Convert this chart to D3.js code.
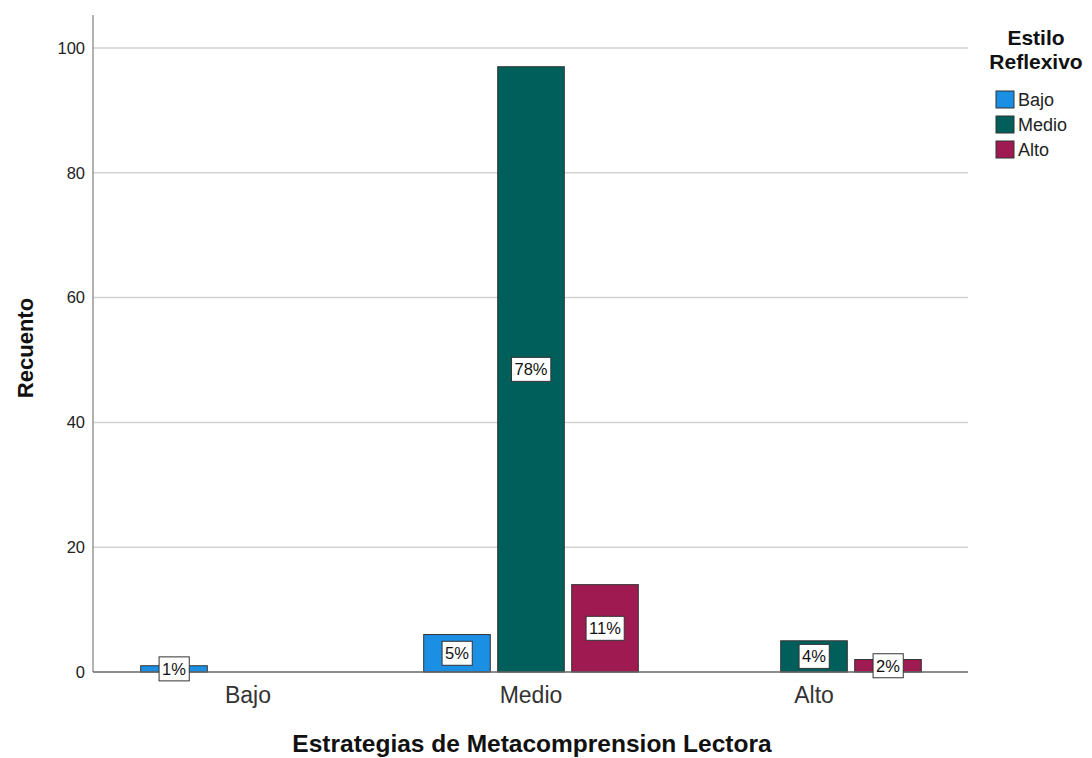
<!DOCTYPE html>
<html>
<head>
<meta charset="utf-8">
<script src="https://cdn.jsdelivr.net/npm/d3@7"></script>
<style>
  body { margin: 0; background: #fff; overflow: hidden; }
  text { font-family: "Liberation Sans", Arial, sans-serif; }
</style>
</head>
<body>
<div id="chart"></div>
<script>
const categories = ["Bajo", "Medio", "Alto"];
const series = ["Bajo", "Medio", "Alto"];
const colors = ["#1a8fe3", "#005f5a", "#a01a52"];
// counts per category, one array per series (null = no bar)
const bajoValues = [1, 6, null];
const medioValues = [null, 97, 5];
const altoValues = [null, 14, 2];
const yTicks = [0, 20, 40, 60, 80, 100];

const values = [bajoValues, medioValues, altoValues];
const total = d3.sum(values.flat());

const W = 1092, H = 758;
const plot = {left: 93, right: 968, top: 15, bottom: 672};

const svg = d3.select("#chart").append("svg")
    .attr("width", W).attr("height", H);

const x = d3.scaleBand().domain(categories).range([106.5, 955.5]);
const xs = d3.scaleBand().domain(series).range([-111, 111]).paddingInner(0.1).paddingOuter(0.05);
const y = d3.scaleLinear().domain([0, 100]).range([plot.bottom, 48]);

// gridlines
svg.append("g")
    .selectAll("line")
    .data(yTicks.filter(d => d > 0))
    .join("line")
    .attr("x1", plot.left).attr("x2", plot.right)
    .attr("y1", d => y(d)).attr("y2", d => y(d))
    .attr("stroke", "#d2d2d2").attr("stroke-width", 1.5);

// y axis
const yAxis = svg.append("g")
    .attr("transform", "translate(" + plot.left + ",0)")
    .call(d3.axisLeft(y).tickValues(yTicks).tickSize(0).tickPadding(8));
yAxis.select(".domain").remove();
yAxis.selectAll("text").attr("font-size", 16.5).attr("fill", "#222");
svg.append("line")
    .attr("x1", plot.left).attr("x2", plot.left).attr("y1", plot.top).attr("y2", plot.bottom)
    .attr("stroke", "#999").attr("stroke-width", 1.5);

// bars
const data = [];
series.forEach((s, i) => {
    categories.forEach((c, j) => {
        if (values[i][j] != null) data.push({cat: c, ser: s, i: i, value: values[i][j]});
    });
});

const bars = svg.append("g");
bars.selectAll("rect")
    .data(data)
    .join("rect")
    .attr("x", d => x(d.cat) + x.bandwidth() / 2 + xs(d.ser))
    .attr("y", d => y(d.value))
    .attr("width", xs.bandwidth())
    .attr("height", d => y(0) - y(d.value))
    .attr("fill", d => colors[d.i])
    .attr("stroke", "#333").attr("stroke-width", 1);

// x axis
const xAxis = svg.append("g")
    .attr("transform", "translate(0," + plot.bottom + ")")
    .call(d3.axisBottom(x).tickSize(0).tickPadding(15));
xAxis.select(".domain").remove();
xAxis.selectAll("text").attr("font-size", 23).attr("fill", "#333");
svg.append("line")
    .attr("x1", plot.left).attr("x2", plot.right).attr("y1", plot.bottom).attr("y2", plot.bottom)
    .attr("stroke", "#666").attr("stroke-width", 1.5);

// percentage labels
const labels = svg.append("g").selectAll("g")
    .data(data)
    .join("g")
    .attr("transform", d => "translate(" + (x(d.cat) + x.bandwidth() / 2 + xs(d.ser) + xs.bandwidth() / 2) + "," + ((y(d.value) + y(0)) / 2) + ")");
labels.append("text")
    .attr("text-anchor", "middle")
    .attr("dy", "0.36em")
    .attr("font-size", 16.5)
    .attr("fill", "#111")
    .text(d => Math.round(d.value / total * 100) + "%");
labels.each(function() {
    const g = d3.select(this);
    const b = g.select("text").node().getBBox();
    g.insert("rect", "text")
        .attr("x", b.x - 3).attr("y", -12)
        .attr("width", b.width + 6).attr("height", 24)
        .attr("fill", "#fff").attr("stroke", "#333").attr("stroke-width", 1);
});

// axis titles
svg.append("text")
    .attr("transform", "translate(33,348) rotate(-90)")
    .attr("text-anchor", "middle")
    .attr("font-size", 22).attr("font-weight", "bold").attr("fill", "#111")
    .text("Recuento");
svg.append("text")
    .attr("x", 532).attr("y", 752)
    .attr("text-anchor", "middle")
    .attr("font-size", 24.5).attr("font-weight", "bold").attr("fill", "#111")
    .text("Estrategias de Metacomprension Lectora");

// legend
svg.append("text")
    .attr("x", 1036).attr("y", 45)
    .attr("text-anchor", "middle")
    .attr("font-size", 21).attr("font-weight", "bold").attr("fill", "#111")
    .text("Estilo");
svg.append("text")
    .attr("x", 1036).attr("y", 69)
    .attr("text-anchor", "middle")
    .attr("font-size", 21).attr("font-weight", "bold").attr("fill", "#111")
    .text("Reflexivo");
const legend = svg.append("g").selectAll("g")
    .data(series)
    .join("g")
    .attr("transform", (d, i) => "translate(996," + (91 + i * 25) + ")");
legend.append("rect")
    .attr("width", 18).attr("height", 17)
    .attr("fill", (d, i) => colors[i])
    .attr("stroke", "#333").attr("stroke-width", 1);
legend.append("text")
    .attr("x", 22).attr("y", 9).attr("dy", "0.36em")
    .attr("font-size", 18).attr("fill", "#222")
    .text(d => d);
</script>
</body>
</html>
